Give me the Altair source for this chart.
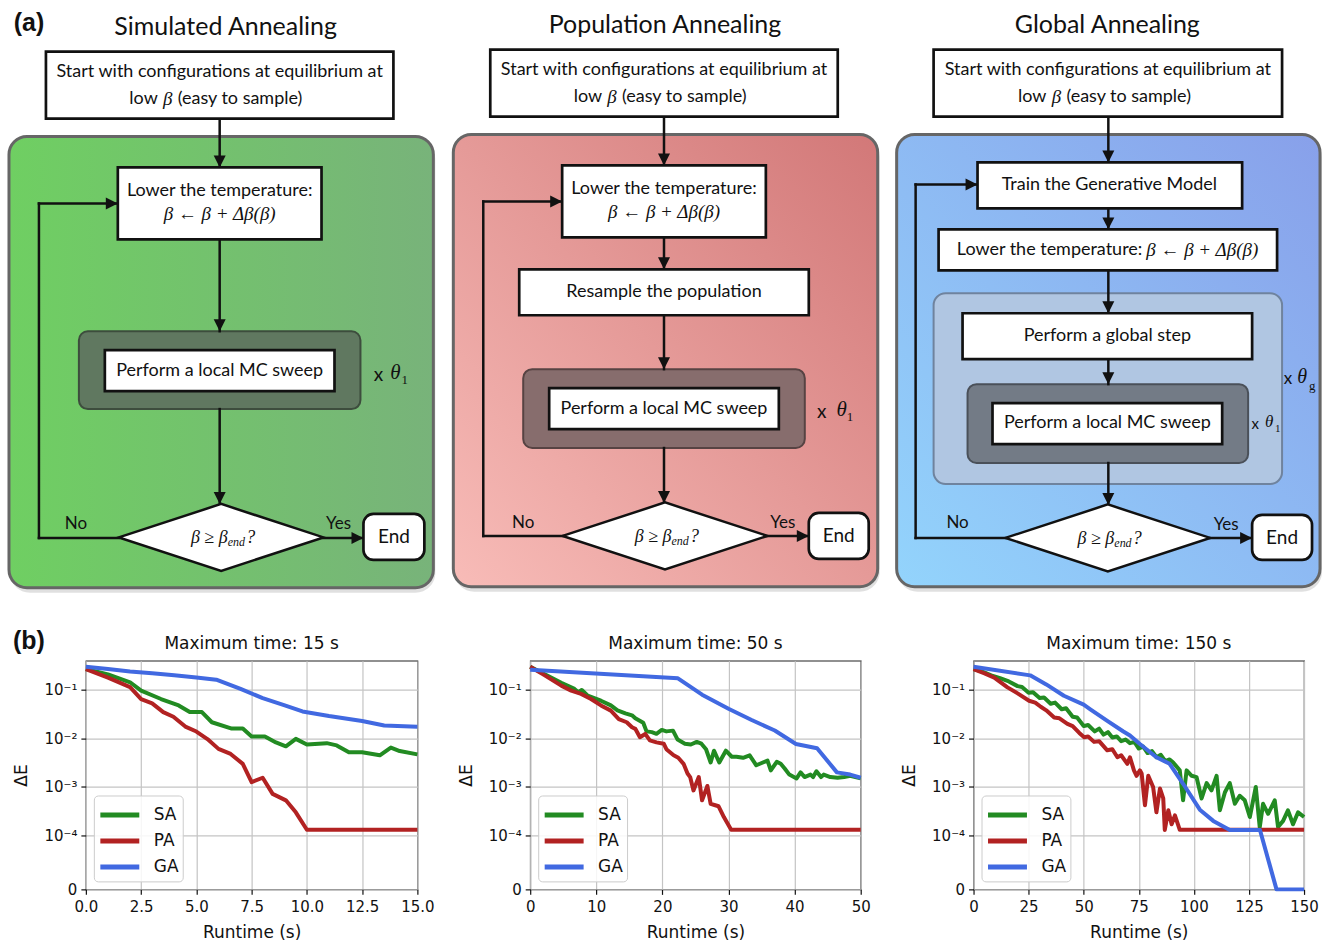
import altair as alt
import pandas as pd

# ------------------------------------------------------------------
# (b) data : energy gap ΔE versus runtime
# ------------------------------------------------------------------
SERIES = ["SA", "PA", "GA"]
COLORS = ["#228b22", "#b22222", "#4169e1"]

SA15_t = [0, 1, 2, 2.5, 3.4, 4.2, 4.7, 5.25, 5.7, 6.6, 7.1, 7.5, 8.1, 8.6, 9.05, 9.5, 10, 10.9, 11.35, 11.9, 12.5, 13.3, 13.8, 14.2, 15]
SA15_v = [0.27, 0.21, 0.144, 0.097, 0.065, 0.048, 0.035, 0.035, 0.0216, 0.016, 0.016, 0.011, 0.011, 0.0083, 0.0069, 0.0098, 0.0075, 0.008, 0.0072, 0.0052, 0.0052, 0.0045, 0.0065, 0.0055, 0.0047]
PA15_t = [0, 1, 2, 2.5, 3, 3.5, 3.96, 4.5, 5, 5.5, 6, 6.55, 7.1, 7.5, 8, 8.45, 9.05, 9.5, 10, 15]
PA15_v = [0.27, 0.18, 0.114, 0.065, 0.053, 0.035, 0.028, 0.0176, 0.0139, 0.0097, 0.0061, 0.0048, 0.003, 0.00126, 0.00155, 0.00072, 0.00053, 0.0003, 0.000131, 0.000131]
GA15_t = [0, 1, 2, 3, 4, 5, 5.9, 7, 8, 9, 9.8, 11, 12.5, 13.5, 15]
GA15_v = [0.30, 0.27, 0.24, 0.22, 0.20, 0.18, 0.163, 0.105, 0.068, 0.048, 0.036, 0.029, 0.023, 0.0185, 0.0175]

SA50_t = [0, 2.2, 4.7, 6.7, 7.3, 7.8, 8.7, 10.7, 12.2, 13.2, 14.4, 15.4, 15.9, 17.1, 17.6, 18.4, 19.1, 19.9, 20.6, 21.6, 22.3, 23.4, 24.3, 25.2, 25.9, 26.6, 27.3, 27.8, 28.6, 29.6, 30.5, 31.2, 32.2, 33.2, 34.2, 35.2, 35.9, 36.4, 37.3, 37.9, 38.5, 39.2, 40.3, 40.9, 41.5, 42.4, 42.8, 43.3, 44, 44.4, 45.4, 46.5, 47.5, 48.4, 49.2, 50]
SA50_v = [0.30, 0.21, 0.14, 0.105, 0.09, 0.10, 0.076, 0.06, 0.048, 0.038, 0.033, 0.03, 0.026, 0.021, 0.014, 0.0135, 0.0125, 0.015, 0.014, 0.0145, 0.0095, 0.0078, 0.0075, 0.0085, 0.0078, 0.006, 0.0032, 0.0056, 0.0032, 0.0056, 0.0042, 0.0042, 0.004, 0.0045, 0.0028, 0.0032, 0.0035, 0.0022, 0.0033, 0.003, 0.0024, 0.0018, 0.0015, 0.002, 0.0016, 0.0018, 0.0016, 0.0021, 0.0016, 0.0018, 0.0016, 0.00155, 0.0016, 0.0017, 0.0016, 0.0015]
PA50_t = [0, 2.2, 4.7, 6.2, 7.7, 9.2, 10.7, 12.2, 13.4, 14.6, 15.4, 15.9, 16.6, 17.4, 18.1, 19.1, 20.2, 20.6, 21.7, 22.4, 23.2, 23.8, 24.2, 24.7, 25.5, 26, 26.8, 27.3, 28, 28.5, 29.3, 30.4, 50]
PA50_v = [0.30, 0.20, 0.123, 0.097, 0.083, 0.065, 0.048, 0.0375, 0.025, 0.0216, 0.017, 0.0158, 0.0106, 0.0124, 0.0091, 0.0083, 0.0078, 0.006, 0.0045, 0.004, 0.003, 0.0019, 0.0016, 0.00085, 0.0016, 0.00053, 0.00105, 0.00045, 0.00042, 0.0004, 0.00024, 0.000132, 0.000132]
GA50_t = [0, 22.35, 26, 30, 33.5, 37, 40.2, 43.4, 46.4, 48.4, 50]
GA50_v = [0.26, 0.174, 0.080, 0.041, 0.024, 0.0146, 0.0077, 0.0063, 0.0020, 0.0018, 0.00155]

SA150_t = [0, 4, 8, 12, 16, 20, 22, 25, 27, 30, 32, 35, 37, 40, 42, 45, 47, 50, 52, 55, 57, 59, 61, 63, 65, 67, 69, 71, 73, 75, 77, 79, 81, 83, 85, 87, 89, 90.6, 93.6, 95.1, 96.7, 99, 101.2, 103.5, 105.8, 108, 110.3, 111.8, 114.1, 116.3, 118.6, 120.8, 123.1, 125.4, 128.1, 129.9, 131.4, 133.7, 136.7, 138.2, 140.5, 142.7, 145, 147.3, 150]
SA150_v = [0.27, 0.24, 0.2, 0.175, 0.15, 0.12, 0.115, 0.088, 0.09, 0.068, 0.07, 0.052, 0.055, 0.04, 0.042, 0.028, 0.027, 0.018, 0.019, 0.014, 0.016, 0.012, 0.0135, 0.0105, 0.011, 0.0088, 0.0095, 0.008, 0.0085, 0.0062, 0.0068, 0.005, 0.0055, 0.0041, 0.0046, 0.0034, 0.0037, 0.0032, 0.0022, 0.00053, 0.0022, 0.0017, 0.0016, 0.00058, 0.0012, 0.00085, 0.0017, 0.00033, 0.00078, 0.0012, 0.00045, 0.00066, 0.00053, 0.00024, 0.001, 0.000148, 0.00045, 0.00028, 0.00053, 0.00015, 0.0002, 0.00033, 0.00017, 0.0003, 0.00024]
PA150_t = [0, 5, 9.4, 15.4, 20, 25.2, 28, 30.5, 33, 36.6, 39, 42.6, 45, 48, 50.2, 52, 54.7, 57, 60.7, 63, 65.3, 67, 69.8, 71, 72.8, 74, 75.5, 76.3, 77.8, 79.3, 81.5, 83, 84.6, 86.1, 86.8, 88.4, 89.9, 91.4, 93.6, 150]
PA150_v = [0.27, 0.22, 0.18, 0.113, 0.085, 0.06, 0.055, 0.045, 0.038, 0.027, 0.026, 0.02, 0.018, 0.013, 0.0106, 0.011, 0.0085, 0.0088, 0.0057, 0.006, 0.0041, 0.0045, 0.003, 0.0041, 0.0022, 0.0017, 0.0022, 0.0019, 0.00042, 0.0017, 0.001, 0.0003, 0.00093, 0.00058, 0.00013, 0.00033, 0.00017, 0.00026, 0.000131, 0.000131]
GA150_t = [0, 25.7, 33, 41, 50, 53, 60.7, 68, 71, 75.5, 83, 89, 95.2, 102.7, 108.8, 116.3, 130, 137.5, 150]
GA150_v = [0.30, 0.20, 0.13, 0.076, 0.05, 0.04, 0.023, 0.0139, 0.0115, 0.0077, 0.0041, 0.003, 0.00115, 0.00034, 0.0002, 0.00013, 0.00013, 0, 0]

PANEL_TITLES = ["Maximum time: 15 s", "Maximum time: 50 s", "Maximum time: 150 s"]
XTICKS15 = [0, 2.5, 5, 7.5, 10, 12.5, 15]
XTICKS50 = [0, 10, 20, 30, 40, 50]
XTICKS150 = [0, 25, 50, 75, 100, 125, 150]

# symmetric-log transform (linear below 1e-4), same as the original axis
SYMLOG = "datum.v <= 1e-4 ? datum.v / 1e-4 * 1.1111 : 1.1111 + log(datum.v / 1e-4) / LN10"
YTICKS = [0, 1.1111, 2.1111, 3.1111, 4.1111]
YLABEL = ("datum.value < 0.5 ? '0' : datum.value < 1.5 ? '10⁻⁴' : datum.value < 2.5 ? '10⁻³' "
          ": datum.value < 3.5 ? '10⁻²' : '10⁻¹'")
LEGEND_LINE = "M-1,0L2,0"


def line_panel(series_data, xmax, xticks, fmt, width, title):
    frames = [pd.DataFrame({"t": ts, "v": vs, "series": name})
              for name, (ts, vs) in zip(SERIES, series_data)]
    df = pd.concat(frames, ignore_index=True)
    base = alt.Chart(df).transform_calculate(u=SYMLOG)
    enc = dict(
        x=alt.X("t:Q", scale=alt.Scale(domain=[0, xmax], nice=False, zero=False),
                axis=alt.Axis(values=xticks, format=fmt, title="Runtime (s)", titlePadding=10,
                              labelFlush=False, labelOverlap=False, labelPadding=5)),
        y=alt.Y("u:Q", scale=alt.Scale(domain=[0, 4.714], nice=False, zero=False),
                axis=alt.Axis(values=YTICKS, labelExpr=YLABEL, title="ΔE", titlePadding=13,
                              labelFlush=False, labelOverlap=False)),
        color=alt.Color("series:N", scale=alt.Scale(domain=SERIES, range=COLORS),
                        legend=alt.Legend(title=None, orient="none", legendX=8, legendY=135,
                                          symbolType=LEGEND_LINE, symbolSize=676, symbolStrokeWidth=5,
                                          labelFontSize=17, labelFont="DejaVu Sans", labelColor="#111",
                                          labelOffset=25, rowPadding=0, padding=4,
                                          fillColor="rgba(255,255,255,0.85)", strokeColor="#cccccc",
                                          cornerRadius=4)),
    )
    layers = [base.transform_filter(alt.datum.series == s)
              .mark_line(strokeWidth=4, strokeJoin="round").encode(**enc) for s in SERIES]
    return alt.layer(*layers).properties(
        width=width, height=229,
        title=alt.Title(title, offset=8),
        view=alt.ViewBackground(stroke="#222", strokeWidth=1.2),
    )


p1 = line_panel([(SA15_t, SA15_v), (PA15_t, PA15_v), (GA15_t, GA15_v)], 15, XTICKS15, ".1f", 332, PANEL_TITLES[0])
p2 = line_panel([(SA50_t, SA50_v), (PA50_t, PA50_v), (GA50_t, GA50_v)], 50, XTICKS50, "d", 331, PANEL_TITLES[1])
p3 = line_panel([(SA150_t, SA150_v), (PA150_t, PA150_v), (GA150_t, GA150_v)], 150, XTICKS150, "d", 331, PANEL_TITLES[2])

# ------------------------------------------------------------------
# (a) flowcharts : layout in page pixels
# ------------------------------------------------------------------
XS = alt.Scale(domain=[0, 1332], range=[-85, 1247], nice=False, zero=False)
YS = alt.Scale(domain=[0, 941], range=[0, 941], nice=False, zero=False)
SANS = "Lato"
SERIF = "Liberation Serif"
INK = "#111111"


def rects(items, **mark):
    df = pd.DataFrame(items, columns=["x1", "y1", "x2", "y2"])
    return alt.Chart(df).mark_rect(**mark).encode(
        x=alt.X("x1:Q", scale=XS, axis=None), x2="x2:Q",
        y=alt.Y("y1:Q", scale=YS, axis=None), y2="y2:Q")


def filled_rects(items, **mark):
    df = pd.DataFrame(items, columns=["x1", "y1", "x2", "y2", "fill", "stroke"])
    return alt.Chart(df).mark_rect(**mark).encode(
        x=alt.X("x1:Q", scale=XS, axis=None), x2="x2:Q",
        y=alt.Y("y1:Q", scale=YS, axis=None), y2="y2:Q",
        fill=alt.Fill("fill:N", scale=None), stroke=alt.Stroke("stroke:N", scale=None))


def points(items, **mark):
    df = pd.DataFrame(items, columns=["x", "y"])
    return alt.Chart(df).mark_point(**mark).encode(
        x=alt.X("x:Q", scale=XS, axis=None), y=alt.Y("y:Q", scale=YS, axis=None))


def texts(items, font, style="normal", weight="normal", align="center"):
    df = pd.DataFrame(items, columns=["x", "y", "label", "fs"])
    return alt.Chart(df).mark_text(font=font, fontStyle=style, fontWeight=weight, align=align,
                                   baseline="middle", color=INK).encode(
        x=alt.X("x:Q", scale=XS, axis=None), y=alt.Y("y:Q", scale=YS, axis=None),
        text="label:N", size=alt.Size("fs:Q", scale=None, legend=None))


def grad(c0, c1, diagonal):
    if diagonal:
        return alt.LinearGradient(gradient="linear", x1=0, y1=1, x2=1, y2=0,
                                  stops=[alt.GradientStop(offset=0, color=c0), alt.GradientStop(offset=1, color=c1)])
    return alt.LinearGradient(gradient="linear", x1=0, y1=0, x2=1, y2=0,
                              stops=[alt.GradientStop(offset=0, color=c0), alt.GradientStop(offset=1, color=c1)])


frame = rects([(0, 0, 1332, 941)], opacity=0)

shadows = rects([(9, 139, 435, 592), (454, 137, 880, 591), (898, 137, 1323, 591)],
                fill="#000000", opacity=0.12, cornerRadius=20)
panel_green = rects([(8, 135, 433, 587)], fill=grad("#6fcf62", "#78b37a", False), stroke="#666666", strokeWidth=3, cornerRadius=18)
panel_red = rects([(453, 133, 878, 586)], fill=grad("#f8bcb8", "#d27878", True), stroke="#666666", strokeWidth=3, cornerRadius=18)
panel_blue = rects([(897, 133, 1321, 586)], fill=grad("#93d4fc", "#88a0ea", True), stroke="#666666", strokeWidth=3, cornerRadius=18)

light_box = filled_rects([(934, 292, 1283, 483, "#b0c6e2", "#6f839e")], strokeWidth=2, cornerRadius=12)
dark_boxes = filled_rects([
    (78, 330, 360, 408, "#607860", "#3d4d3d"),
    (523, 368, 805, 447, "#876d6d", "#574343"),
    (968, 383, 1249, 462, "#737b86", "#4a5059"),
], strokeWidth=2, cornerRadius=9)

rules_df = pd.DataFrame([
    (219, 117, 219, 166), (219, 238, 219, 330), (219, 408, 219, 503), (323, 537, 363, 537),
    (118, 537, 38, 537), (38, 537, 38, 202), (38, 202, 117, 202),
    (664, 115, 664, 164), (664, 236, 664, 268), (664, 314, 664, 368), (664, 447, 664, 502),
    (767, 535, 809, 535), (563, 535, 483, 535), (483, 535, 483, 200), (483, 200, 562, 200),
    (1109, 115, 1109, 161), (1109, 207, 1109, 228), (1109, 269, 1109, 312), (1109, 358, 1109, 383),
    (1109, 462, 1109, 504), (1211, 537, 1253, 537), (1006, 537, 916, 537), (916, 537, 916, 183),
    (916, 183, 978, 183),
], columns=["x1", "y1", "x2", "y2"])
rules = alt.Chart(rules_df).mark_rule(strokeWidth=2.5, color=INK, strokeCap="square").encode(
    x=alt.X("x1:Q", scale=XS, axis=None), x2="x2:Q",
    y=alt.Y("y1:Q", scale=YS, axis=None), y2="y2:Q")

white_boxes = rects([
    (45, 50, 393, 117), (117, 166, 321, 238), (104, 349, 334, 390),
    (490, 48, 838, 115), (562, 164, 766, 236), (519, 268, 809, 314), (549, 387, 779, 428),
    (934, 48, 1283, 115), (978, 161, 1243, 207), (939, 228, 1278, 269), (963, 312, 1253, 358),
    (993, 402, 1223, 443),
], fill="white", stroke=INK, strokeWidth=2.7)
end_boxes = rects([(363, 513, 424, 559), (809, 512, 869, 558), (1253, 514, 1313, 559)],
                  fill="white", stroke=INK, strokeWidth=2.7, cornerRadius=10)

DIAMOND = "M-1,0L0,-0.327L1,0L0,0.327Z"
diamond_centers = [(220.5, 536.5), (665, 535), (1108.5, 537)]
diamonds = points(diamond_centers, shape=DIAMOND, size=42025, filled=True, fill="white",
                  stroke=INK, strokeWidth=2.5, opacity=1)

ARROW_DOWN = "M-1.2,-2.4L1.2,-2.4L0,0Z"
ARROW_RIGHT = "M-2.4,-1.2L-2.4,1.2L0,0Z"
heads_down = points([(219, 166), (219, 330), (219, 503), (664, 164), (664, 268), (664, 368), (664, 502),
                     (1109, 161), (1109, 228), (1109, 312), (1109, 383), (1109, 504)],
                    shape=ARROW_DOWN, size=100, filled=True, color=INK, opacity=1)
heads_right = points([(363, 537), (117, 202), (809, 535), (562, 200), (1253, 537), (978, 183)],
                     shape=ARROW_RIGHT, size=100, filled=True, color=INK, opacity=1)

START1 = "Start with configurations at equilibrium at"
LOWER = "Lower the temperature:"
SWEEP = "Perform a local MC sweep"
UPDATE = "β ← β + Δβ(β)"

sans_center = texts([
    (225, 25, "Simulated Annealing", 25), (665, 23, "Population Annealing", 25), (1108, 23, "Global Annealing", 25),
    (219, 70, START1, 18), (664, 68, START1, 18), (1108.5, 68, START1, 18),
    (219, 190, LOWER, 18), (664, 188, LOWER, 18),
    (219, 370, SWEEP, 18), (664, 408, SWEEP, 18), (1108, 422, SWEEP, 18),
    (664, 291, "Resample the population", 18), (1110, 184, "Train the Generative Model", 18),
    (1108, 335, "Perform a global step", 18),
    (393.5, 536, "End", 19), (839, 535, "End", 19), (1283, 537, "End", 19),
    (75, 523, "No", 17), (523, 522, "No", 17), (958, 522, "No", 17),
    (338, 523, "Yes", 17), (783, 522, "Yes", 17), (1227, 524, "Yes", 17),
    (378, 374, "x", 19), (822, 411, "x", 19), (1289, 378, "x", 17), (1256, 423, "x", 15),
], SANS)
sans_right = texts([(157, 97, "low", 18), (602, 95, "low", 18), (1047, 95, "low", 18),
                    (1143, 249, LOWER, 18)], SANS, align="right")
sans_left = texts([(177, 97, "(easy to sample)", 18), (622, 95, "(easy to sample)", 18),
                   (1067, 95, "(easy to sample)", 18)], SANS, align="left")

serif_center = texts([
    (167, 97, "β", 19), (612, 95, "β", 19), (1057, 95, "β", 19),
    (219, 213, UPDATE, 19), (664, 211, UPDATE, 19),
    (395, 372, "θ", 21), (842, 409, "θ", 21), (1303, 376, "θ", 20), (1270, 421, "θ", 17),
], SERIF, style="italic")
serif_left_it = texts([(1147, 249, UPDATE, 19)]
                      + [(cx + 6.5, cy + 5, "end", 12) for cx, cy in diamond_centers]
                      + [(cx + 25, cy + 1, "?", 18) for cx, cy in diamond_centers], SERIF, style="italic", align="left")
serif_right_it = texts([(cx + 6.5, cy + 1, "β ≥ β", 18) for cx, cy in diamond_centers], SERIF, style="italic", align="right")
serif_sub = texts([(401, 379, "1", 13), (847, 416, "1", 13), (1276, 428, "1", 11), (1310, 385, "g", 13)],
                  SERIF, align="left")
bold_labels = texts([(28, 21, "(a)", 25), (28, 640, "(b)", 25)], "Liberation Sans", weight="bold")

top = alt.layer(
    frame, shadows, panel_green, panel_red, panel_blue, light_box, dark_boxes, rules, white_boxes, end_boxes,
    diamonds, heads_down, heads_right, sans_center, sans_right, sans_left, serif_center,
    serif_left_it, serif_right_it, serif_sub, bold_labels,
).properties(width=1247, height=640, view=alt.ViewBackground(stroke="transparent"))

row = alt.hconcat(p1, p2, p3, spacing=113, bounds="flush").resolve_scale(
    color="independent").resolve_legend(color="independent")

chart = alt.vconcat(top, row, spacing=20, bounds="flush").resolve_scale(color="independent").resolve_legend(
    color="independent").properties(padding=0, background="white").configure_axis(
    labelFont="DejaVu Sans", labelFontSize=15, labelColor=INK, titleFont="DejaVu Sans", titleFontSize=17,
    titleFontWeight="normal", titleColor=INK, tickColor=INK, tickSize=5, tickWidth=1.2,
    gridColor="#c4c4c4", gridWidth=1.2, domain=False, labelPadding=4,
).configure_title(font="DejaVu Sans", fontSize=17, fontWeight="normal", color=INK).configure_view(
    stroke="transparent")

chart.save("out.html", embed_options={"renderer": "svg", "actions": False})
